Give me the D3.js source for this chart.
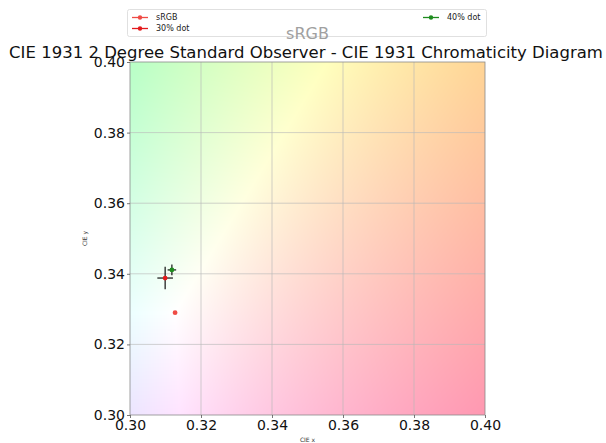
<!DOCTYPE html>
<html>
<head>
<meta charset="utf-8">
<script src="https://cdn.jsdelivr.net/npm/d3@7"></script>
<style>
  html, body { margin: 0; padding: 0; background: #fff; }
  svg { display: block; font-family: "DejaVu Sans", sans-serif; }
</style>
</head>
<body>
<svg id="chart" width="606" height="443"></svg>
<script>
// Measured chromaticities (CIE 1931 xy) with their uncertainties
const seriesNames = ["sRGB", "30% dot", "40% dot"];
const seriesColors = ["#ef4b45", "#e31a1c", "#1e8c1e"];
const xValues = [0.3127, 0.3099, 0.3118];
const yValues = [0.3290, 0.3388, 0.3411];
const xErrors = [0, 0.0022, 0.0012];
const yErrors = [0, 0.0032, 0.0015];

const xTicks = [0.30, 0.32, 0.34, 0.36, 0.38, 0.40];
const yTicks = [0.30, 0.32, 0.34, 0.36, 0.38, 0.40];
const xDomain = [0.30, 0.40];
const yDomain = [0.30, 0.40];

const plot = { left: 130, top: 62, right: 485, bottom: 415 };
const svg = d3.select("#chart");

const x = d3.scaleLinear().domain(xDomain).range([plot.left, plot.right]);
const y = d3.scaleLinear().domain(yDomain).range([plot.bottom, plot.top]);

// Chromaticity diagram colours: xy -> XYZ (Y = 1) -> linear sRGB, normalised and encoded
function xyToDisplay(cx, cy) {
  const X = cx / cy, Y = 1, Z = (1 - cx - cy) / cy;
  let r = 3.2406 * X - 1.5372 * Y - 0.4986 * Z;
  let g = -0.9689 * X + 1.8758 * Y + 0.0415 * Z;
  let b = 0.0557 * X - 0.2040 * Y + 1.0570 * Z;
  r = Math.max(r, 0); g = Math.max(g, 0); b = Math.max(b, 0);
  const m = Math.max(r, g, b);
  const enc = v => {
    v = v / m;
    let e = v <= 0.0031308 ? 12.92 * v : 1.055 * Math.pow(v, 1 / 2.4) - 0.055;
    e = 0.92 * e + 0.08; // slight wash toward white
    return Math.round(Math.min(1, Math.max(0, e)) * 255);
  };
  return [enc(r), enc(g), enc(b)];
}

const w = plot.right - plot.left, h = plot.bottom - plot.top;
const canvas = document.createElement("canvas");
canvas.width = w; canvas.height = h;
const ctx = canvas.getContext("2d");
const img = ctx.createImageData(w, h);
for (let j = 0; j < h; j++) {
  const cy = y.invert(plot.top + j + 0.5);
  for (let i = 0; i < w; i++) {
    const cx = x.invert(plot.left + i + 0.5);
    const [r, g, b] = xyToDisplay(cx, cy);
    const k = (j * w + i) * 4;
    img.data[k] = r; img.data[k + 1] = g; img.data[k + 2] = b; img.data[k + 3] = 255;
  }
}
ctx.putImageData(img, 0, 0);
svg.append("image")
  .attr("x", plot.left).attr("y", plot.top)
  .attr("width", w).attr("height", h)
  .attr("preserveAspectRatio", "none")
  .attr("href", canvas.toDataURL());

// Grid
const grid = svg.append("g").attr("stroke", "#b8b8b8").attr("stroke-opacity", 0.8).attr("stroke-width", 0.8);
grid.selectAll(".gx").data(xTicks.slice(1, -1)).join("line")
  .attr("x1", d => x(d)).attr("x2", d => x(d))
  .attr("y1", plot.top).attr("y2", plot.bottom);
grid.selectAll(".gy").data(yTicks.slice(1, -1)).join("line")
  .attr("y1", d => y(d)).attr("y2", d => y(d))
  .attr("x1", plot.left).attr("x2", plot.right);

// Frame
svg.append("rect")
  .attr("x", plot.left).attr("y", plot.top).attr("width", w).attr("height", h)
  .attr("fill", "none").attr("stroke", "#8a8a8a").attr("stroke-width", 0.8);

// Axes
const xAxis = d3.axisBottom(x).tickValues(xTicks).tickFormat(d3.format(".2f")).tickSize(3).tickPadding(2);
const yAxis = d3.axisLeft(y).tickValues(yTicks).tickFormat(d3.format(".2f")).tickSize(3).tickPadding(2);
const gx = svg.append("g").attr("transform", `translate(0,${plot.bottom})`).call(xAxis);
const gy = svg.append("g").attr("transform", `translate(${plot.left},0)`).call(yAxis);
[gx, gy].forEach(g => {
  g.select(".domain").remove();
  g.selectAll(".tick line").attr("stroke", "#555").attr("stroke-width", 0.8);
  g.selectAll(".tick text").attr("font-size", 14).attr("fill", "#111")
    .attr("font-family", "DejaVu Sans, sans-serif");
});

svg.append("text").attr("x", (plot.left + plot.right) / 2).attr("y", 442)
  .attr("text-anchor", "middle").attr("font-size", 6).attr("fill", "#333").text("CIE x");
svg.append("text").attr("transform", `translate(87,${(plot.top + plot.bottom) / 2}) rotate(-90)`)
  .attr("text-anchor", "middle").attr("font-size", 6).attr("fill", "#333").text("CIE y");

// Error bars and markers
const pts = seriesNames.map((n, i) => ({ n, i, x: xValues[i], y: yValues[i], ex: xErrors[i], ey: yErrors[i] }));
const eb = svg.append("g").attr("stroke", "#111").attr("stroke-width", 1.2);
pts.filter(p => p.ex > 0 || p.ey > 0).forEach(p => {
  eb.append("line").attr("x1", x(p.x - p.ex)).attr("x2", x(p.x + p.ex)).attr("y1", y(p.y)).attr("y2", y(p.y));
  eb.append("line").attr("x1", x(p.x)).attr("x2", x(p.x)).attr("y1", y(p.y - p.ey)).attr("y2", y(p.y + p.ey));
});
svg.append("g").selectAll("circle").data(pts).join("circle")
  .attr("cx", d => x(d.x)).attr("cy", d => y(d.y)).attr("r", 2.4)
  .attr("fill", d => seriesColors[d.i]);

// Legend
const legend = svg.append("g");
legend.append("rect").attr("x", 127.5).attr("y", 9.5).attr("width", 359).attr("height", 27)
  .attr("rx", 2).attr("fill", "#fff").attr("stroke", "#d8d8d8").attr("stroke-width", 0.8);
const legendPos = [[132, 17.5], [132, 28.5], [423, 17.5]];
pts.forEach((p, i) => {
  const [lx, ly] = legendPos[i];
  const g = legend.append("g").attr("transform", `translate(${lx},${ly})`);
  g.append("line").attr("x1", 0).attr("x2", 16).attr("stroke", seriesColors[i]).attr("stroke-width", 1.3);
  g.append("circle").attr("cx", 8).attr("r", 2.2).attr("fill", seriesColors[i]);
  g.append("text").attr("x", 24).attr("y", 2.8).attr("font-size", 8).attr("fill", "#222").text(p.n);
});

// Subtitle and title
svg.append("text").attr("x", (plot.left + plot.right) / 2).attr("y", 39)
  .attr("text-anchor", "middle").attr("font-size", 16).attr("fill", "#a0a0a0").text("sRGB");
svg.append("text").attr("x", 306).attr("y", 58)
  .attr("text-anchor", "middle").attr("font-size", 16.5).attr("fill", "#111")
  .text("CIE 1931 2 Degree Standard Observer - CIE 1931 Chromaticity Diagram");
</script>
</body>
</html>
